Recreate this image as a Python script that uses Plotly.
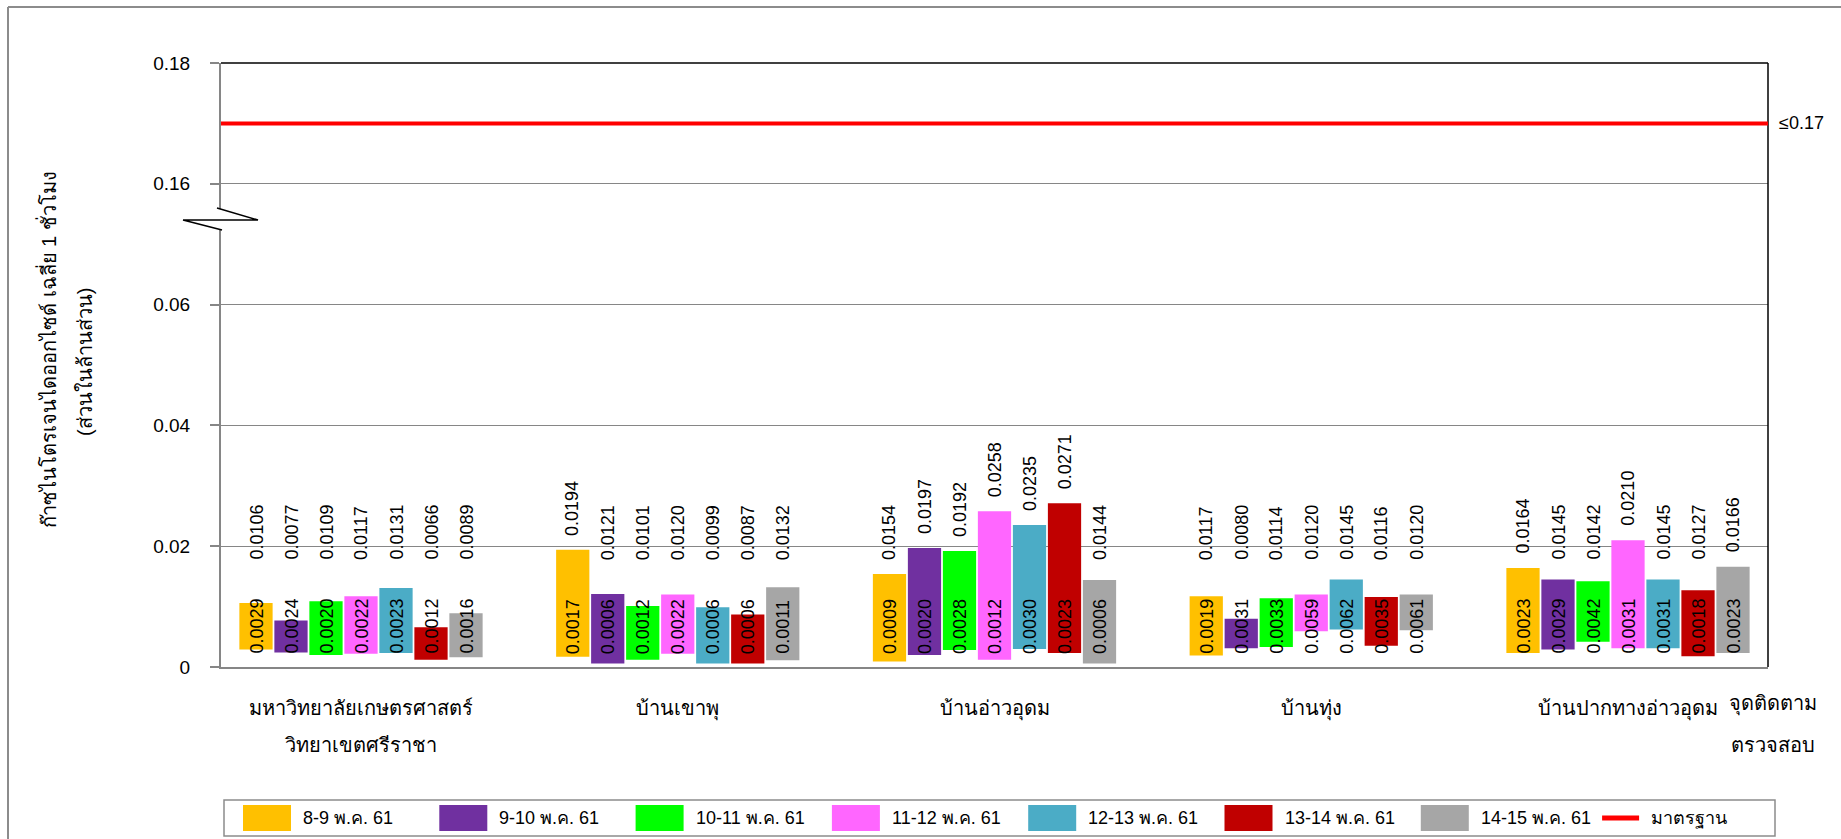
import plotly.graph_objects as go

# ---------------- data ----------------
station_line1 = ["มหาวิทยาลัยเกษตรศาสตร์", "บ้านเขาพุ", "บ้านอ่าวอุดม", "บ้านทุ่ง", "บ้านปากทางอ่าวอุดม"]
station_line2 = ["วิทยาเขตศรีราชา", "", "", "", ""]

dates = ["8-9 พ.ค. 61", "9-10 พ.ค. 61", "10-11 พ.ค. 61", "11-12 พ.ค. 61",
         "12-13 พ.ค. 61", "13-14 พ.ค. 61", "14-15 พ.ค. 61"]

d1_max = [0.0106, 0.0194, 0.0154, 0.0117, 0.0164]
d1_min = [0.0029, 0.0017, 0.0009, 0.0019, 0.0023]
d2_max = [0.0077, 0.0121, 0.0197, 0.0080, 0.0145]
d2_min = [0.0024, 0.0006, 0.0020, 0.0031, 0.0029]
d3_max = [0.0109, 0.0101, 0.0192, 0.0114, 0.0142]
d3_min = [0.0020, 0.0012, 0.0028, 0.0033, 0.0042]
d4_max = [0.0117, 0.0120, 0.0258, 0.0120, 0.0210]
d4_min = [0.0022, 0.0022, 0.0012, 0.0059, 0.0031]
d5_max = [0.0131, 0.0099, 0.0235, 0.0145, 0.0145]
d5_min = [0.0023, 0.0006, 0.0030, 0.0062, 0.0031]
d6_max = [0.0066, 0.0087, 0.0271, 0.0116, 0.0127]
d6_min = [0.0012, 0.0006, 0.0023, 0.0035, 0.0018]
d7_max = [0.0089, 0.0132, 0.0144, 0.0120, 0.0166]
d7_min = [0.0016, 0.0011, 0.0006, 0.0061, 0.0023]

standard_value = 0.17
standard_label = "มาตรฐาน"
y_tick_values = [0, 0.02, 0.04, 0.06, 0.16, 0.18]
y_title_line1 = "ก๊าซไนโตรเจนไดออกไซด์ เฉลี่ย 1 ชั่วโมง"
y_title_line2 = "(ส่วนในล้านส่วน)"
x_title_line1 = "จุดติดตาม"
x_title_line2 = "ตรวจสอบ"

# ---------------- styling ----------------
colors = ["#FFC000", "#7030A0", "#00FF00", "#FF66FF", "#4BACC6", "#C00000", "#A6A6A6"]
FONT = "Liberation Sans, Arial, sans-serif"
W, H = 1841, 839
L, R, T, B = 221, 1768, 63, 667
BREAK_LOW, BREAK_HIGH = 0.06, 0.16
BREAK_SHIFT = BREAK_HIGH - 0.08  # 0.16 is drawn where 0.08 would be
Y_MAX = 0.10
PX_PER_UNIT = (B - T) / Y_MAX
GRID = "#868686"

def ypos(v):
    """axis-break mapping from real value to plotted position"""
    return v if v <= BREAK_LOW else v - BREAK_SHIFT

def px_x(px):
    return (px - L) / (R - L)

def px_y(py):
    return (B - py) / (B - T)

maxs = [d1_max, d2_max, d3_max, d4_max, d5_max, d6_max, d7_max]
mins = [d1_min, d2_min, d3_min, d4_min, d5_min, d6_min, d7_min]

bargap = 0.2265
groupgap = 0.05
slot = (1 - bargap) / len(dates)

fig = go.Figure()
annotations = []
for j, (name, mx, mn) in enumerate(zip(dates, maxs, mins)):
    fig.add_trace(go.Bar(
        x=list(range(len(station_line1))),
        y=[ypos(a) - ypos(b) for a, b in zip(mx, mn)],
        base=[ypos(b) for b in mn],
        name=name,
        marker=dict(color=colors[j], line=dict(width=0)),
        showlegend=False,
        hoverinfo="skip",
    ))
    for i, (a, b) in enumerate(zip(mx, mn)):
        xc = i + (j - (len(dates) - 1) / 2) * slot
        top_pos = max(ypos(a) + 12 / PX_PER_UNIT, 105 / PX_PER_UNIT)
        annotations.append(dict(x=xc, y=top_pos, xref="x", yref="y", text=f"{a:.4f}",
                                textangle=-90, showarrow=False, xanchor="center", yanchor="bottom",
                                font=dict(family=FONT, size=18, color="black")))
        annotations.append(dict(x=xc, y=11 / PX_PER_UNIT, xref="x", yref="y", text=f"{b:.4f}",
                                textangle=-90, showarrow=False, xanchor="center", yanchor="bottom",
                                font=dict(family=FONT, size=18, color="black")))

shapes = []
# plot frame: black top and right
shapes.append(dict(type="line", xref="paper", yref="paper", x0=0, x1=1, y0=1, y1=1,
                   line=dict(color="black", width=1.5)))
shapes.append(dict(type="line", xref="paper", yref="paper", x0=1, x1=1, y0=0, y1=1,
                   line=dict(color="black", width=1.5)))
# standard line
std_y = ypos(standard_value)
shapes.append(dict(type="line", xref="paper", yref="y", x0=0, x1=1, y0=std_y, y1=std_y,
                   line=dict(color="#FF0000", width=4)))
annotations.append(dict(x=px_x(1777), y=std_y, xref="paper", yref="y", text=f"≤{standard_value:.2f}",
                        showarrow=False, xanchor="left", yanchor="middle",
                        font=dict(family=FONT, size=18, color="black")))
# axis break mark
shapes.append(dict(type="rect", xref="paper", yref="paper", x0=px_x(216), x1=px_x(226),
                   y0=px_y(229), y1=px_y(209), fillcolor="white", line=dict(width=0)))
pts = [(217, 208), (258, 220), (183, 220), (222, 230)]
path = "M " + " L ".join(f"{px_x(a):.5f},{px_y(b):.5f}" for a, b in pts)
shapes.append(dict(type="path", xref="paper", yref="paper", path=path,
                   line=dict(color="black", width=1.5)))
# outer chart border (top and left visible)
shapes.append(dict(type="line", xref="paper", yref="paper", x0=px_x(8), x1=px_x(W + 5),
                   y0=px_y(7), y1=px_y(7), line=dict(color="#8c8c8c", width=2)))
shapes.append(dict(type="line", xref="paper", yref="paper", x0=px_x(8), x1=px_x(8),
                   y0=px_y(7), y1=px_y(H + 5), line=dict(color="#8c8c8c", width=2)))

# manual legend (large swatches like the original)
leg_y0, leg_y1 = 800, 836
shapes.append(dict(type="rect", xref="paper", yref="paper", x0=px_x(224), x1=px_x(1775),
                   y0=px_y(leg_y1), y1=px_y(leg_y0), line=dict(color="#8c8c8c", width=1.5),
                   fillcolor="white", layer="below"))
leg_mid = (leg_y0 + leg_y1) / 2
step = 196.3
for j, name in enumerate(dates):
    sx = 243 + j * step
    shapes.append(dict(type="rect", xref="paper", yref="paper", x0=px_x(sx), x1=px_x(sx + 48),
                       y0=px_y(leg_mid + 13), y1=px_y(leg_mid - 13), fillcolor=colors[j],
                       line=dict(width=0)))
    annotations.append(dict(x=px_x(sx + 58), y=px_y(leg_mid), xref="paper", yref="paper", text=name,
                            showarrow=False, xanchor="left", yanchor="middle",
                            font=dict(family=FONT, size=18, color="black")))
sx = 243 + len(dates) * step - 15
shapes.append(dict(type="line", xref="paper", yref="paper", x0=px_x(sx), x1=px_x(sx + 37),
                   y0=px_y(leg_mid), y1=px_y(leg_mid), line=dict(color="#FF0000", width=5)))
annotations.append(dict(x=px_x(sx + 47), y=px_y(leg_mid), xref="paper", yref="paper", text=standard_label,
                        showarrow=False, xanchor="left", yanchor="middle",
                        font=dict(family=FONT, size=18, color="black")))

# y-axis title (two lines)
annotations.append(dict(x=px_x(47), y=px_y(350), xref="paper", yref="paper", text=y_title_line1,
                        textangle=-90, showarrow=False, xanchor="center", yanchor="middle",
                        font=dict(family=FONT, size=20, color="black")))
annotations.append(dict(x=px_x(85), y=px_y(362), xref="paper", yref="paper", text=y_title_line2,
                        textangle=-90, showarrow=False, xanchor="center", yanchor="middle",
                        font=dict(family=FONT, size=20, color="black")))
# x-axis title at right
annotations.append(dict(x=px_x(1773), y=px_y(704), xref="paper", yref="paper", text=x_title_line1,
                        showarrow=False, xanchor="center", yanchor="middle",
                        font=dict(family=FONT, size=20, color="black")))
annotations.append(dict(x=px_x(1773), y=px_y(745), xref="paper", yref="paper", text=x_title_line2,
                        showarrow=False, xanchor="center", yanchor="middle",
                        font=dict(family=FONT, size=20, color="black")))
# second lines of category labels
for i, t in enumerate(station_line2):
    if t:
        annotations.append(dict(x=i, y=px_y(745), xref="x", yref="paper", text=t,
                                showarrow=False, xanchor="center", yanchor="middle",
                                font=dict(family=FONT, size=20, color="black")))

n = len(station_line1)
x_pad = 140 / ((R - L - 280) / (n - 1))
fig.update_layout(
    width=W, height=H,
    margin=dict(l=L, r=W - R, t=T, b=H - B, pad=0),
    paper_bgcolor="white", plot_bgcolor="white",
    barmode="group", bargap=bargap, bargroupgap=groupgap,
    showlegend=False,
    font=dict(family=FONT, size=18, color="black"),
    xaxis=dict(
        range=[-x_pad, n - 1 + x_pad],
        tickvals=list(range(n)), ticktext=station_line1,
        showline=True, linecolor=GRID, linewidth=2,
        showgrid=False, zeroline=False, ticks="",
        ticklabelstandoff=22,
        tickfont=dict(family=FONT, size=20, color="black"),
    ),
    yaxis=dict(
        range=[0, Y_MAX],
        tickvals=[ypos(v) for v in y_tick_values],
        ticktext=[("0" if v == 0 else f"{v:.2f}") for v in y_tick_values],
        showline=True, linecolor=GRID, linewidth=2,
        showgrid=True, gridcolor=GRID, gridwidth=1,
        zeroline=False, ticks="outside", ticklen=9, tickcolor=GRID, tickwidth=1.5,
        ticklabelstandoff=16,
        tickfont=dict(family=FONT, size=19, color="black"),
    ),
    shapes=shapes,
    annotations=annotations,
)

fig.write_html("out.html", config={"displayModeBar": False},
               post_script="document.body.style.margin='0px';document.body.style.overflow='hidden';")
